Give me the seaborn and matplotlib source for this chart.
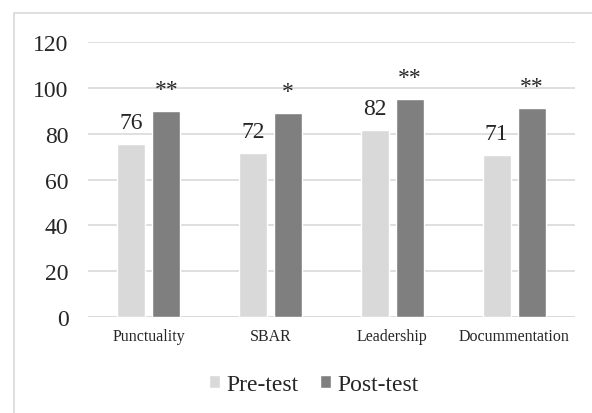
"""
Pre-test vs post-test scores per skill, grouped bar chart.
"""
import pandas as pd
import matplotlib
matplotlib.use("Agg")
import matplotlib.pyplot as plt
from matplotlib.patches import Rectangle
import seaborn as sns

# Chart data
skills = ["Punctuality", "SBAR", "Leadership", "Docummentation"]
pre_test = [75.6, 71.6, 81.6, 70.8]
post_test = [90, 89, 95.2, 91.1]
pre_labels = ["76", "72", "82", "71"]
post_labels = ["**", "*", "**", "**"]
groups = ["Pre-test", "Post-test"]

df = pd.DataFrame({
    "skill": skills * 2,
    "score": pre_test + post_test,
    "test": [groups[0]] * len(skills) + [groups[1]] * len(skills),
})

sns.set_style("white")
plt.rcParams["font.family"] = ["Liberation Serif", "DejaVu Serif"]

fig = plt.figure(figsize=(5.92, 4.14), dpi=100)
ax = fig.add_axes([0.1486, 0.2319, 0.8227, 0.6642])

sns.barplot(
    data=df, x="skill", y="score", hue="test",
    palette=["#d9d9d9", "#7f7f7f"], width=0.573, gap=0.197,
    errorbar=None, saturation=1, ax=ax,
)

# Value labels on pre-test bars, significance stars on post-test bars
ax.bar_label(ax.containers[0], labels=pre_labels, padding=8, fontsize=17)
ax.bar_label(ax.containers[1], labels=post_labels, padding=8, fontsize=17)

ax.set_ylim(0, 120)
ax.set_yticks(range(0, 121, 20))
ax.yaxis.grid(True, color="#d9d9d9", linewidth=1.2)
ax.set_axisbelow(True)
for s in ax.spines.values():
    s.set_visible(False)
ax.axhline(0, color="#d9d9d9", linewidth=1.2, zorder=0)
ax.tick_params(axis="y", length=0, pad=14, labelsize=17)
ax.tick_params(axis="x", length=0, pad=8, labelsize=11.5)
ax.set_xlabel("")
ax.set_ylabel("")

# Legend below the plot
handles, labels = ax.get_legend_handles_labels()
ax.legend_.remove()
fig.legend(
    handles, labels, loc="center", bbox_to_anchor=(0.53, 0.07), ncol=2,
    frameon=False, fontsize=17, handlelength=0.47, handleheight=0.47,
    handletextpad=0.25, columnspacing=0.93,
)

# Light chart-area border
fig.patches.append(Rectangle(
    (14 / 592, -0.1), 1.2, 1.1 - 14 / 414, transform=fig.transFigure,
    fill=False, edgecolor="#d9d9d9", linewidth=1.2,
))

fig.savefig("out.png", dpi=100)
